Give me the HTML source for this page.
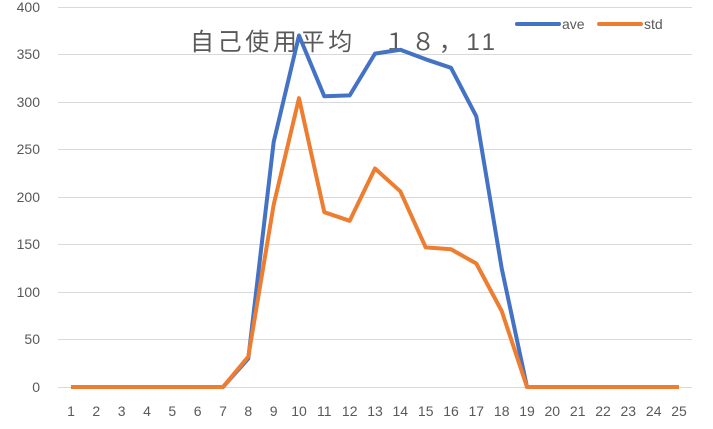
<!DOCTYPE html>
<html><head><meta charset="utf-8"><style>body{margin:0;background:#fff}svg{display:block}</style></head><body>
<svg width="713" height="429" xmlns="http://www.w3.org/2000/svg" font-family="Liberation Sans, Noto Sans CJK SC, sans-serif">
<g stroke="#d9d9d9" stroke-width="1">
<line x1="58" x2="692" y1="7.5" y2="7.5"/><line x1="58" x2="692" y1="54.5" y2="54.5"/><line x1="58" x2="692" y1="102.5" y2="102.5"/><line x1="58" x2="692" y1="149.5" y2="149.5"/><line x1="58" x2="692" y1="197.5" y2="197.5"/><line x1="58" x2="692" y1="244.5" y2="244.5"/><line x1="58" x2="692" y1="292.5" y2="292.5"/><line x1="58" x2="692" y1="339.5" y2="339.5"/><line x1="58" x2="692" y1="387.5" y2="387.5"/>
</g>
<g font-size="14" fill="#595959" text-anchor="end">
<text x="40" y="12">400</text><text x="40" y="59">350</text><text x="40" y="107">300</text><text x="40" y="154">250</text><text x="40" y="202">200</text><text x="40" y="249">150</text><text x="40" y="297">100</text><text x="40" y="344">50</text><text x="40" y="392">0</text>
</g>
<g font-size="14" fill="#595959" text-anchor="middle">
<text x="71" y="416">1</text><text x="96.3" y="416">2</text><text x="121.7" y="416">3</text><text x="147" y="416">4</text><text x="172.3" y="416">5</text><text x="197.7" y="416">6</text><text x="223" y="416">7</text><text x="248.3" y="416">8</text><text x="273.7" y="416">9</text><text x="299" y="416">10</text><text x="324.3" y="416">11</text><text x="349.7" y="416">12</text><text x="375" y="416">13</text><text x="400.3" y="416">14</text><text x="425.7" y="416">15</text><text x="451" y="416">16</text><text x="476.3" y="416">17</text><text x="501.7" y="416">18</text><text x="527" y="416">19</text><text x="552.3" y="416">20</text><text x="577.7" y="416">21</text><text x="603" y="416">22</text><text x="628.3" y="416">23</text><text x="653.7" y="416">24</text><text x="679" y="416">25</text>
</g>
<text x="190" y="50" font-size="24" fill="#595959" textLength="305" lengthAdjust="spacing">自己使用平均　１８，11</text>
<line x1="517" x2="559" y1="24" y2="24" stroke="#4472c4" stroke-width="4" stroke-linecap="round"/>
<text x="562" y="29" font-size="14" fill="#595959">ave</text>
<line x1="599" x2="641" y1="24" y2="24" stroke="#ed7d31" stroke-width="4" stroke-linecap="round"/>
<text x="644" y="29" font-size="14" fill="#595959">std</text>
<polyline fill="none" stroke="#4472c4" stroke-width="4" stroke-linejoin="round" points="71,387 223,387 248.3,358.5 273.7,141.9 299,35.5 324.3,96.3 349.7,95.4 375,53.6 400.3,49.8 425.7,59.3 451,67.8 476.3,116.3 501.7,268.3 527,387 679,387"/>
<polyline fill="none" stroke="#ed7d31" stroke-width="4" stroke-linejoin="round" points="71,387 223,387 248.3,356.6 273.7,204.6 299,98.2 324.3,212.2 349.7,220.8 375,168.5 400.3,191.3 425.7,247.4 451,249.3 476.3,263.5 501.7,311 527,387 679,387"/>
</svg>
</body></html>
